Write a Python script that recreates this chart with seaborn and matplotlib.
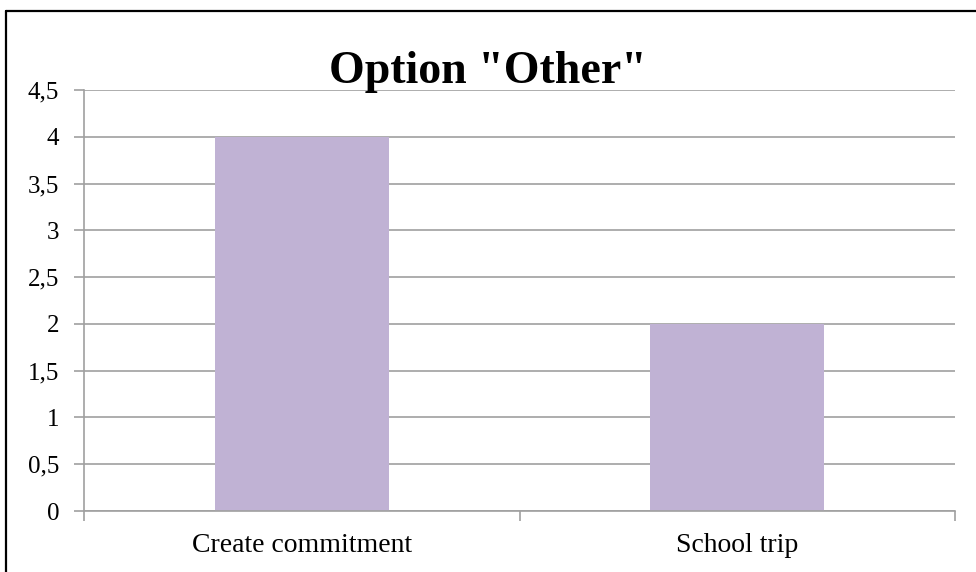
import matplotlib
matplotlib.use("Agg")
import matplotlib.pyplot as plt
import seaborn as sns
import pandas as pd
from matplotlib.lines import Line2D
from matplotlib.ticker import FixedLocator

categories = ["Create commitment", "School trip"]
values = [4, 2]
yticks = [0, 0.5, 1, 1.5, 2, 2.5, 3, 3.5, 4, 4.5]
ytick_labels = ["0", "0,5", "1", "1,5", "2", "2,5", "3", "3,5", "4", "4,5"]
title = 'Option "Other"'

sns.set_theme(style="white")
plt.rcParams['font.family'] = ['Liberation Serif', 'DejaVu Serif']
plt.rcParams['text.color'] = 'black'
plt.rcParams['xtick.color'] = 'black'
plt.rcParams['ytick.color'] = 'black'

df = pd.DataFrame({"category": categories, "value": values})

fig = plt.figure(figsize=(9.76, 5.72), dpi=100)
ax = fig.add_axes([84/976, 1-511/572, (955-84)/976, (511-90)/572])

sns.barplot(data=df, x="category", y="value", color="#C0B2D4", width=0.40,
            saturation=1, ax=ax, zorder=3, edgecolor="none", linewidth=0)
ax.set_xlim(-0.5, 1.5)
ax.set_ylim(0, 4.5)
ax.set_yticks(yticks)
ax.set_yticklabels(ytick_labels, fontsize=18)
ax.set_xticks([0, 1])
ax.set_xticklabels(categories, fontsize=20)
ax.tick_params(axis='x', which='major', length=0, pad=16, labelcolor='black')
ax.tick_params(axis='y', length=7, width=1.2, color="#A0A0A0", pad=11, left=True, labelcolor='black')
ax.xaxis.set_minor_locator(FixedLocator([-0.5, 0.5, 1.5]))
ax.tick_params(axis='x', which='minor', length=7, width=1.2, color="#A0A0A0", bottom=True)
ax.set_xlabel("")
ax.set_ylabel("")
ax.grid(axis='y', color="#A0A0A0", linewidth=1.2, zorder=0)
for s in ["top", "right"]:
    ax.spines[s].set_visible(False)
for s in ["left", "bottom"]:
    ax.spines[s].set_color("#A0A0A0")
    ax.spines[s].set_linewidth(1.2)
    ax.spines[s].set_zorder(4)

fig.text(0.5, 1-72/572, title, ha="center", va="center", fontsize=33, fontweight="bold", color="black")

# outer frame (top and left visible)
fig.add_artist(Line2D([6/976, 1.0], [1-11/572, 1-11/572], transform=fig.transFigure, color="black", linewidth=1.6))
fig.add_artist(Line2D([6/976, 6/976], [0, 1-11/572], transform=fig.transFigure, color="black", linewidth=1.6))

fig.savefig("out.png", dpi=100)
